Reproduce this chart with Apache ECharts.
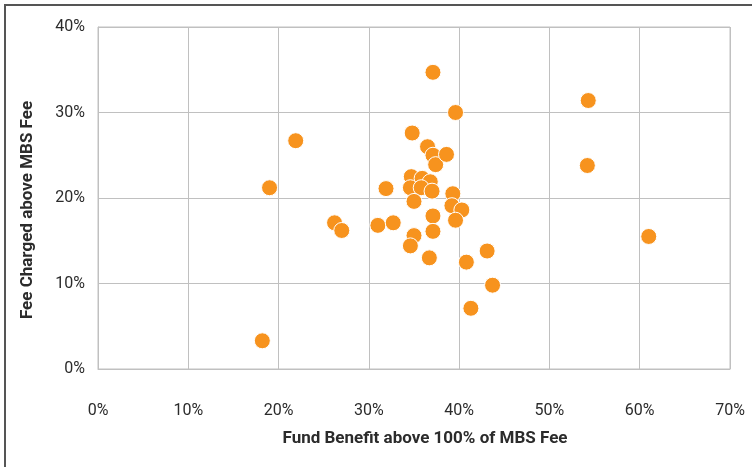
<!DOCTYPE html>
<html>
<head>
<meta charset="utf-8">
<script src="https://cdn.jsdelivr.net/npm/echarts@6/dist/echarts.min.js"></script>
<style>
  html, body { margin: 0; padding: 0; background: #fff; }
  #frame { position: absolute; left: 4px; top: 4px; width: 800px; height: 520px; border: 2px solid #555; }
  #main { position: absolute; left: 0; top: 0; width: 752px; height: 467px; }
</style>
</head>
<body>
<div id="frame"></div>
<div id="main"></div>
<script>
// fund benefit above 100% of MBS fee (%), fee charged above MBS fee (%)
var fundBenefit = [18.2, 19.0, 21.9, 26.2, 27.0, 31.0, 31.9, 32.7, 34.8, 34.7,
                   35.9, 36.8, 34.6, 35.8, 37.0, 35.0, 35.0, 34.6, 36.5, 37.1,
                   37.4, 38.6, 37.1, 39.6, 39.3, 39.2, 40.3, 39.6, 37.1, 37.1,
                   36.7, 40.8, 43.1, 43.7, 41.3, 54.3, 54.2, 61.0];
var feeCharged = [3.3, 21.2, 26.7, 17.1, 16.2, 16.8, 21.1, 17.1, 27.6, 22.5,
                  22.3, 21.9, 21.2, 21.2, 20.8, 19.6, 15.6, 14.4, 26.0, 25.0,
                  23.9, 25.1, 34.7, 30.0, 20.5, 19.1, 18.6, 17.4, 17.9, 16.1,
                  13.0, 12.5, 13.8, 9.8, 7.1, 31.4, 23.8, 15.5];
var xTicks = [0, 10, 20, 30, 40, 50, 60, 70];
var yTicks = [0, 10, 20, 30, 40];

var points = fundBenefit.map(function (v, i) { return [v, feeCharged[i]]; });

var myChart = echarts.init(document.getElementById('main'));
var labelFont = { color: '#2b2b2b', fontSize: 16, fontFamily: 'Roboto' };
var gridLine = { show: true, lineStyle: { color: '#c0c0c0', width: 1 } };

myChart.setOption({
  animation: false,
  grid: { left: 98, right: 22, top: 27, bottom: 98, show: true, borderColor: '#c0c0c0', borderWidth: 1 },
  xAxis: {
    type: 'value',
    min: xTicks[0], max: xTicks[xTicks.length - 1], interval: 10,
    axisLine: { show: true, lineStyle: { color: '#c0c0c0' } },
    axisTick: { show: false },
    splitLine: gridLine,
    axisLabel: Object.assign({ margin: 34, formatter: '{value}%' }, labelFont)
  },
  yAxis: {
    type: 'value',
    min: yTicks[0], max: yTicks[yTicks.length - 1], interval: 10,
    axisLine: { show: true, lineStyle: { color: '#c0c0c0' } },
    axisTick: { show: false },
    splitLine: gridLine,
    axisLabel: Object.assign({ margin: 13, formatter: '{value}%' }, labelFont)
  },
  graphic: [
    {
      type: 'text', x: 425, y: 439,
      style: {
        text: 'Fund Benefit above 100% of MBS Fee', fill: '#2b2b2b',
        font: 'bold 17px Roboto', align: 'center', verticalAlign: 'middle'
      }
    },
    {
      type: 'text', x: 28, y: 210, rotation: Math.PI / 2,
      style: {
        text: 'Fee Charged above MBS Fee', fill: '#2b2b2b',
        font: 'bold 17px Roboto', align: 'center', verticalAlign: 'middle'
      }
    }
  ],
  series: [{
    type: 'scatter',
    data: points,
    symbolSize: 16,
    itemStyle: { color: '#f7931e', borderColor: '#fff', borderWidth: 1, opacity: 1 }
  }]
});
</script>
</body>
</html>
